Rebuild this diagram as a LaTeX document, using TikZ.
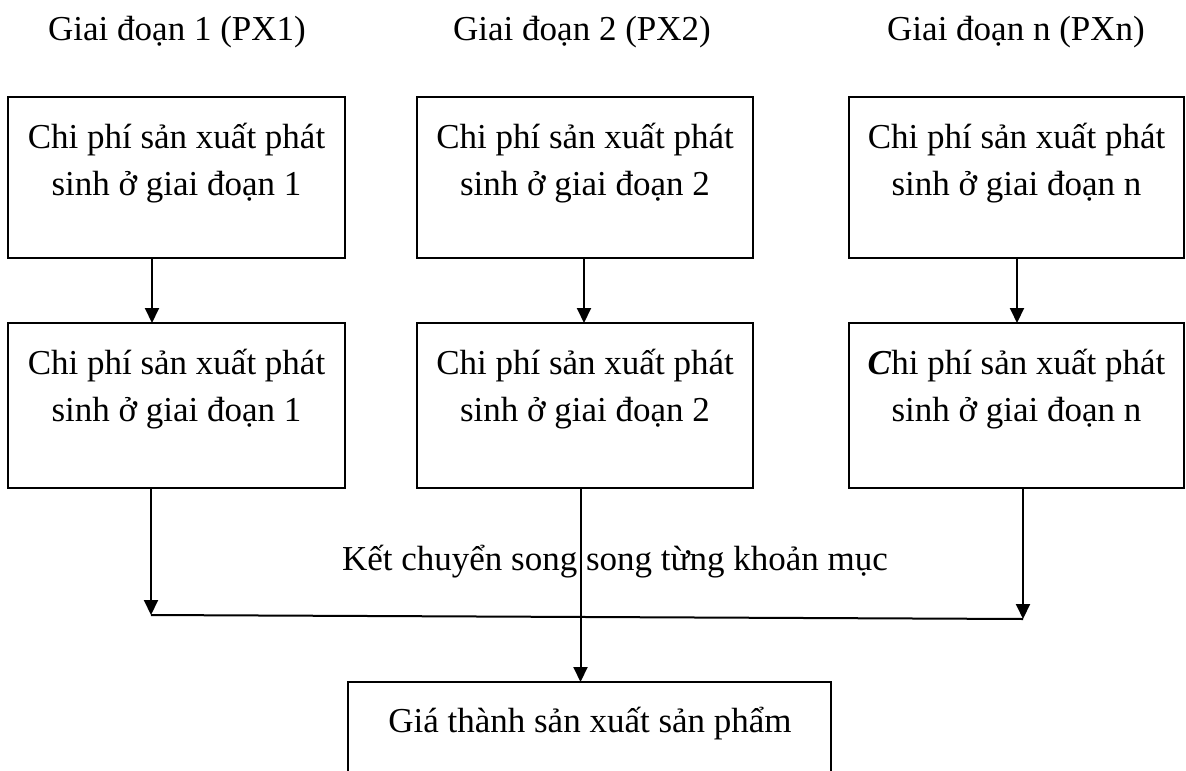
\documentclass[tikz,border=0pt]{standalone}
\usepackage{fontspec}
\setmainfont{Liberation Serif}
\usetikzlibrary{arrows.meta,calc}
\begin{document}
\begin{tikzpicture}[x=1pt,y=-1pt,
  box/.style={draw,line width=2pt,inner sep=0pt,outer sep=0pt,minimum width=337pt},
  txt/.style={font=\fontsize{35}{47}\selectfont,align=center,inner sep=0pt,anchor=base},
  arr/.style={line width=2pt,-{Triangle[length=15pt,width=14pt]}},
  ln/.style={line width=2pt}]
\useasboundingbox (0,0) rectangle (1186,771);
\clip (0,0) rectangle (1186,771);
% headers
\node[txt] (h1) at (177,40) {Giai đoạn 1 (PX1)};
\node[txt] (h2) at (582,40) {Giai đoạn 2 (PX2)};
\node[txt] (h3) at (1016,40) {Giai đoạn n (PXn)};
% row 1 boxes
\node[box,minimum height=161pt] (a1) at (176.5,177.5) {};
\node[box,minimum width=336pt,minimum height=161pt] (a2) at (585,177.5) {};
\node[box,minimum width=335pt,minimum height=161pt] (a3) at (1016.5,177.5) {};
\node[txt] (ta1) at (176.5,195) {Chi phí sản xuất phát\\sinh ở giai đoạn 1};
\node[txt] (ta2) at (585,195) {Chi phí sản xuất phát\\sinh ở giai đoạn 2};
\node[txt] (ta3) at (1016.5,195) {Chi phí sản xuất phát\\sinh ở giai đoạn n};
% row 2 boxes
\node[box,minimum height=165pt] (b1) at (176.5,405.5) {};
\node[box,minimum width=336pt,minimum height=165pt] (b2) at (585,405.5) {};
\node[box,minimum width=335pt,minimum height=165pt] (b3) at (1016.5,405.5) {};
\node[txt] (tb1) at (176.5,421) {Chi phí sản xuất phát\\sinh ở giai đoạn 1};
\node[txt] (tb2) at (585,421) {Chi phí sản xuất phát\\sinh ở giai đoạn 2};
\node[txt] (tb3) at (1016.5,421) {\textbf{\textit{C}}hi phí sản xuất phát\\sinh ở giai đoạn n};
% bottom box
\node[box,minimum width=483pt,minimum height=140pt] (p) at (589.5,752) {};
\node[txt] (tp) at (590,732) {Giá thành sản xuất sản phẩm};
% label
\node[txt] (k) at (615,570) {Kết chuyển song song từng khoản mục};
% arrows row1 -> row2
\draw[arr] ([xshift=-24.5pt]a1.south) -- ([xshift=-24.5pt]b1.north);
\draw[arr] ([xshift=-1pt]a2.south) -- ([xshift=-1pt]b2.north);
\draw[arr] ([xshift=0.5pt]a3.south) -- ([xshift=0.5pt]b3.north);
% collecting lines
\coordinate (jl) at (151,615);
\coordinate (jr) at (1023,619);
\draw[arr] (b1.south -| jl) -- (jl);
\draw[arr] (b3.south -| jr) -- (jr);
\draw[ln] (jl) -- (jr);
\draw[arr] ([xshift=-4.5pt]b2.south) -- ([xshift=-9pt]p.north);
\end{tikzpicture}
\end{document}
